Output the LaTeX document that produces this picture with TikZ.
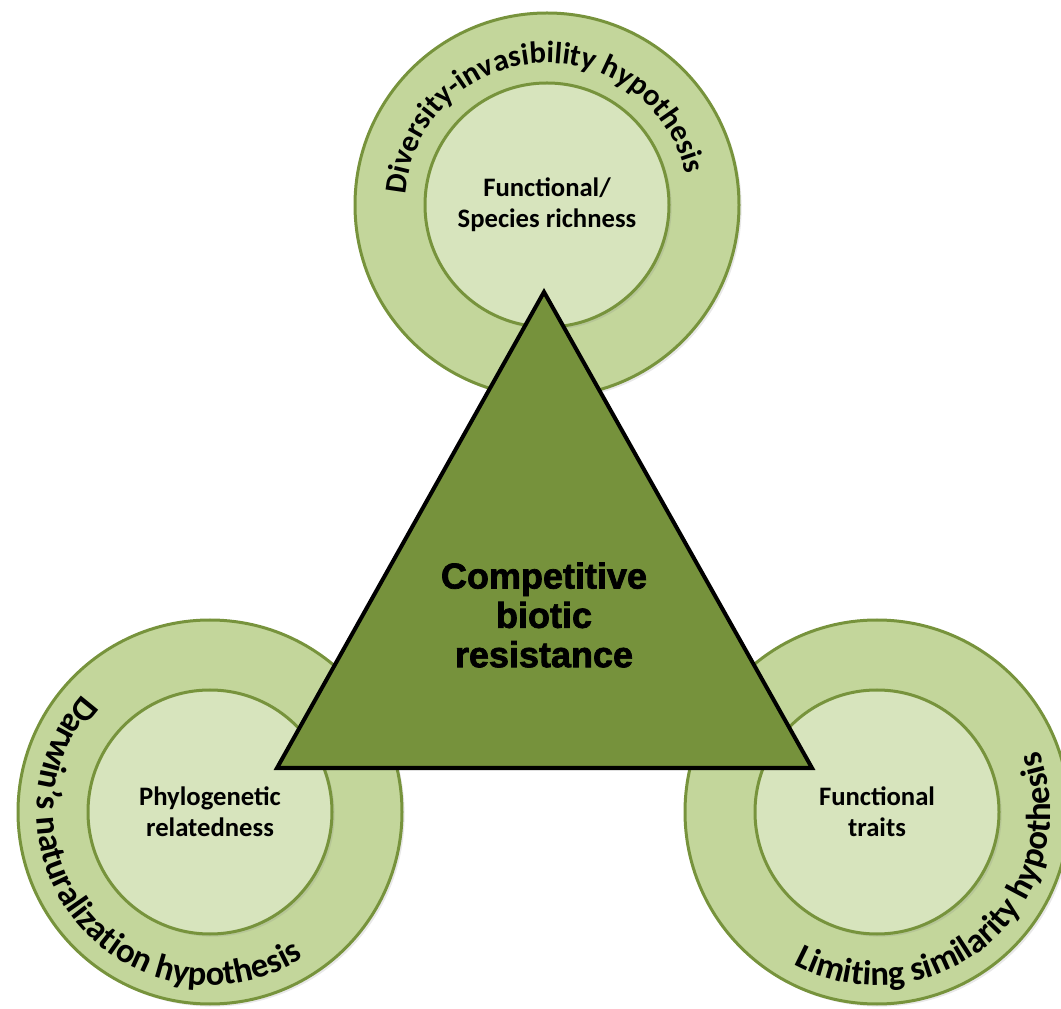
\documentclass[tikz,border=0pt]{standalone}
\usepackage{fontspec}
\setmainfont{Carlito}
\newfontfamily\headfont[BoldFeatures={FakeBold=2}]{Liberation Sans}
\usetikzlibrary{decorations.text}
\usetikzlibrary{shadows}
\definecolor{ringgreen}{HTML}{C3D69B}
\definecolor{coregreen}{HTML}{D7E4BD}
\definecolor{edgegreen}{HTML}{77933C}
\definecolor{trigreen}{HTML}{76923C}
\tikzset{%
	% Specifications for style of nodes:
	base/.style = {circle, draw=edgegreen, line width=2.25pt, inner sep=0pt,
		drop shadow={opacity=0.18, shadow xshift=2pt, shadow yshift=-2pt}},
	ring/.style = {base, fill=ringgreen, minimum size=288pt},
	core/.style = {base, fill=coregreen, minimum size=183pt,
		align=center, font=\bfseries\fontsize{20}{23}\selectfont},
	arch/.style 2 args = {decorate, decoration={text along path, text align=center,
		text={|\bfseries\fontsize{#1}{#1}\selectfont|#2}}},
}

\begin{document}
\begin{tikzpicture}[x=0.75pt, y=0.75pt]
		\useasboundingbox (0,0) rectangle (1061,1008);
		\clip (0,0) rectangle (1061,1008);
		% Specification of nodes (position, etc.)
		\node (diversityRing) [ring] at (547,803) {};
		\node (darwinRing)    [ring] at (210,196) {};
		\node (limitingRing)  [ring] at (877,196) {};
		\node (richness)    [core] at (diversityRing.center) {Functional/\\Species richness};
		\node (relatedness) [core] at (darwinRing.center)    {Phylogenetic\\relatedness};
		\node (traits)      [core] at (limitingRing.center)  {Functional\\traits};
		% ring texts
		\path[arch={23}{Diversity-invasibility hypothesis}] (diversityRing.center) ++(194:106.5pt)
			arc[start angle=194, end angle=-6, radius=106.5pt];
		\path[arch={26}{Darwin's naturalization hypothesis}] (darwinRing.center) ++(120:130pt)
			arc[start angle=120, end angle=320, radius=130pt];
		\path[arch={26}{Limiting similarity hypothesis}] (limitingRing.center) ++(211:130pt)
			arc[start angle=211, end angle=411, radius=130pt];
		% triangle
		\coordinate (apex)  at (544,716);
		\coordinate (left)  at (277,240);
		\coordinate (right) at (812,240);
		\draw[fill=trigreen, line width=3pt, line join=miter] (apex) -- (left) -- (right) -- cycle;
		\node (resistance) at (544,393) [align=center, font=\headfont\bfseries\fontsize{27}{29.5}\selectfont]
			{Competitive\\biotic\\resistance};
	\end{tikzpicture}
\end{document}
